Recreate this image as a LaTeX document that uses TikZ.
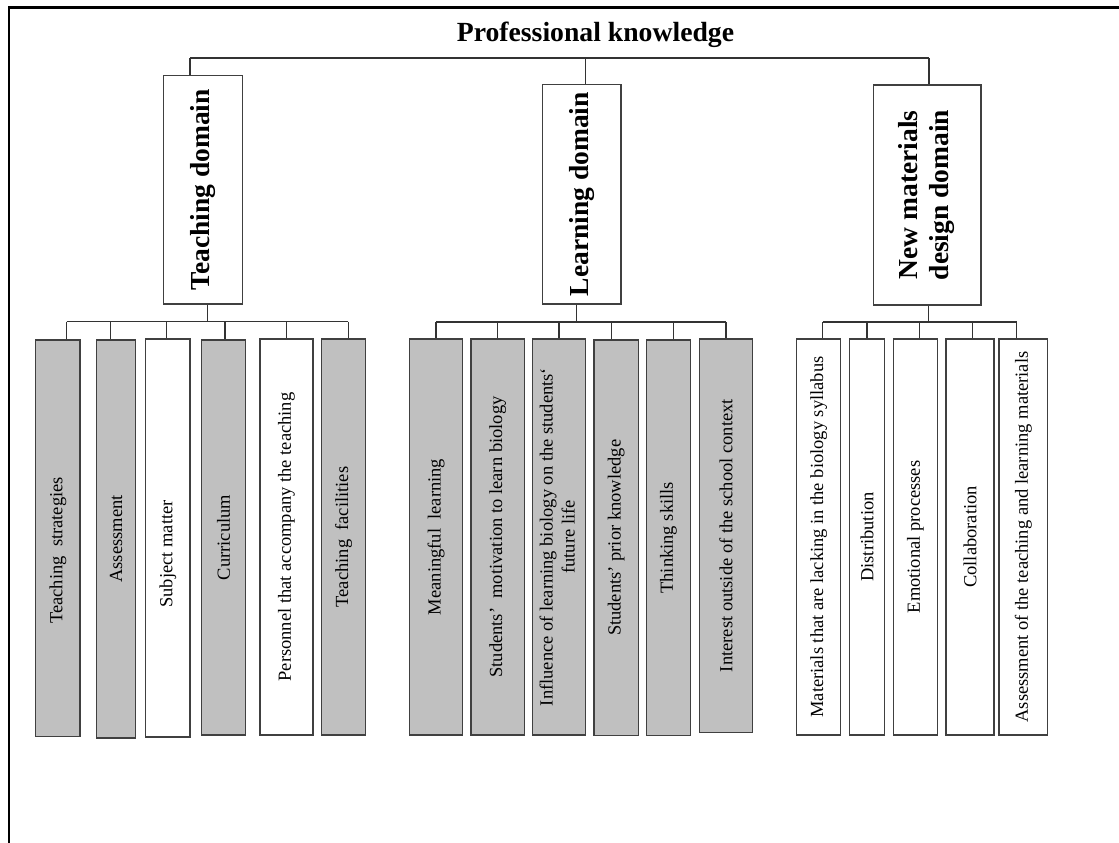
\documentclass[tikz,border=0pt]{standalone}
\usepackage{fontspec}
\setmainfont{Liberation Serif}
\definecolor{boxgray}{HTML}{C0C0C0}
\definecolor{boxc}{HTML}{404040}
\definecolor{linec}{HTML}{333333}
\newcommand\mkbox[7]{%
  \node[#1, minimum width={#4-#3}, minimum height={#6-#5}] (#2) at ({(#3+#4)/2},{(#5+#6)/2}) {\rotatebox{90}{#7}};}
\begin{document}
\begin{tikzpicture}[x=1pt,y=-1pt,
  box/.style={draw=boxc, line width=1.1pt, inner sep=0pt, text=black,
    font=\fontsize{18.5}{22.2}\selectfont},
  gbox/.style={box, fill=boxgray},
  wbox/.style={box, fill=white},
  dbox/.style={draw=boxc, line width=1.1pt, fill=white, inner sep=0pt,
    font=\fontsize{27.5}{31}\selectfont\bfseries},
  conn/.style={draw=linec, line width=1.1pt},
  frame/.style={draw=black, line width=2.5pt},
  titlefont/.style={font=\fontsize{27.7}{32}\selectfont\bfseries}]
\useasboundingbox (0,0) rectangle (1119,843);
% frame (top and left edges)
\coordinate (fl) at (9,843);
\coordinate (fc) at (9,7.5);
\coordinate (fr) at (1119,7.5);
\draw[frame] (fl) -- (fc) -- (fr);
% title
\node[titlefont, anchor=base, inner sep=0pt] (title) at (595.5,41.7) {Professional knowledge};
% domain boxes
\mkbox{dbox}{td}{163.3}{242.3}{75.7}{304}{Teaching domain}
\mkbox{dbox}{ld}{542.3}{621}{84.3}{304}{Learning domain}
\mkbox{dbox}{nd}{873.3}{981}{85}{305}{\begin{tabular}{@{}c@{}}New materials\\design domain\end{tabular}}
% top bus
\coordinate (b1) at (190,58);
\coordinate (b2) at (585.7,58);
\coordinate (b3) at (929,58);
\draw[conn] (b1) -- (b3);
\draw[conn] (b1) -- (b1 |- td.north);
\draw[conn] (b2) -- (b2 |- ld.north);
\draw[conn] (b3) -- (b3 |- nd.north);
% teaching children
\mkbox{gbox}{T1}{35.7}{80}{340}{736.7}{Teaching~ strategies\hspace{24pt}}
\mkbox{gbox}{T2}{96.7}{135.7}{340}{738}{Assessment}
\mkbox{wbox}{T3}{145.7}{190}{339}{737}{Subject matter\hspace{32pt}}
\mkbox{gbox}{T4}{201.7}{245.3}{340}{735}{Curriculum}
\mkbox{wbox}{T5}{260}{313}{339}{735}{Personnel that accompany the teaching}
\mkbox{gbox}{T6}{321.7}{365.7}{339}{735}{Teaching~ facilities}
% learning children
\mkbox{gbox}{L1}{409.3}{462.7}{339}{735}{Meaningful~ learning}
\mkbox{gbox}{L2}{471}{524.3}{339}{735}{Students’ ~motivation to learn biology}
\mkbox{gbox}{L3}{532.7}{585.7}{339}{735}{\begin{tabular}{@{}c@{}}Influence of learning biology on the students‘\hspace{37pt}\\future life\end{tabular}}
\mkbox{gbox}{L4}{594}{638.3}{340}{735.7}{Students' prior knowledge}
\mkbox{gbox}{L5}{646.3}{690.7}{340}{735.7}{Thinking skills}
\mkbox{gbox}{L6}{699.3}{752.7}{339}{732.3}{Interest outside of the school context}
% new materials children
\mkbox{wbox}{N1}{796.7}{840.7}{339}{735}{Materials that are lacking in the biology syllabus}
\mkbox{wbox}{N2}{849.3}{884.7}{339}{735}{Distribution}
\mkbox{wbox}{N3}{893.3}{937.3}{339}{735}{Emotional processes}
\mkbox{wbox}{N4}{946}{994}{339}{735}{Collaboration}
\mkbox{wbox}{N5}{999}{1047.7}{339}{735}{Assessment of the teaching and learning materials}
% teaching bus
\coordinate (tp) at (207.3,321.7);
\draw[conn] (tp |- td.south) -- (tp);
\coordinate (tl) at (66.7,321.7);
\coordinate (tr) at (348.3,321.7);
\draw[conn] (tl) -- (tr);
\foreach \n/\x in {T1/66.7,T2/110.7,T3/166.3,T4/225,T5/286.7,T6/348.3}{
  \coordinate (tmp) at (\x,321.7);
  \draw[conn] (tmp) -- (tmp |- \n.north);
}
% learning bus
\coordinate (lp) at (576.7,322);
\draw[conn] (lp |- ld.south) -- (lp);
\coordinate (ll) at (436,322);
\coordinate (lr) at (726,322);
\draw[conn] (ll) -- (lr);
\foreach \n/\x in {L1/436,L2/497.3,L3/559,L4/611.7,L5/673.3,L6/726}{
  \coordinate (tmp) at (\x,322);
  \draw[conn] (tmp) -- (tmp |- \n.north);
}
% new materials bus
\coordinate (np) at (928.3,322);
\draw[conn] (np |- nd.south) -- (np);
\coordinate (nl) at (822.7,322);
\coordinate (nr) at (1016.7,322);
\draw[conn] (nl) -- (nr);
\foreach \n/\x in {N1/822.7,N2/867,N3/919.3,N4/972.3,N5/1016.7}{
  \coordinate (tmp) at (\x,322);
  \draw[conn] (tmp) -- (tmp |- \n.north);
}
\end{tikzpicture}
\end{document}
